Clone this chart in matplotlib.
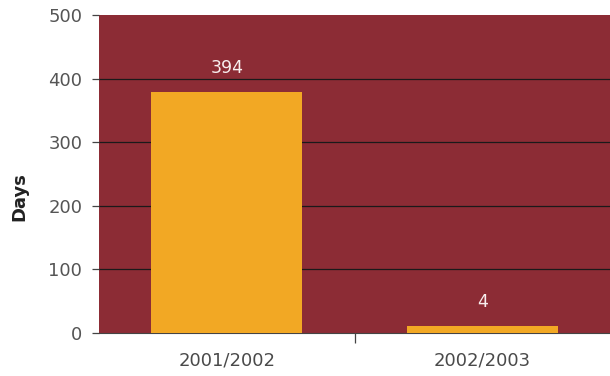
import matplotlib.pyplot as plt
import numpy as np

# data
seasons = ['2001/2002', '2002/2003']
bar_heights = [379, 11]       # drawn heights
value_labels = ['394', '4']   # printed labels
yticks = [0, 100, 200, 300, 400, 500]

plt.rcParams['font.family'] = ['DejaVu Sans']

fig = plt.figure(figsize=(6.1, 3.76), dpi=100)
ax = fig.add_axes([0.1623, 0.1144, 0.8377, 0.8457])
ax.set_facecolor('#8c2c35')

x = np.arange(len(seasons))
bars = ax.bar(x, bar_heights, width=0.59, color='#f2a824', zorder=3)

for b, lab in zip(bars, value_labels):
    ax.annotate(lab, (b.get_x() + b.get_width() / 2, b.get_height()),
                xytext=(0, 11), textcoords='offset points',
                ha='center', va='bottom', color='#f8eeee', fontsize=12.5)

ax.set_xlim(-0.5, 1.5)
ax.set_ylim(0, 500)
ax.set_yticks(yticks)
# grid lines for 100..400 only (no line on the top edge)
for yv in yticks[1:-1]:
    ax.axhline(yv, color='#1a1a1a', lw=0.9, zorder=1)

ax.set_xticks(x)
ax.set_xticklabels(seasons)
ax.set_xticks([0.5], minor=True)
ax.tick_params(axis='x', which='major', length=0, pad=13, labelsize=13, labelcolor='#4a4a4a')
ax.tick_params(axis='x', which='minor', length=7, width=0.9, color='#444444')
ax.tick_params(axis='y', length=5, width=0.9, color='#444444', pad=7, labelsize=13, labelcolor='#555555')

for s in ['top', 'right', 'left']:
    ax.spines[s].set_visible(False)
ax.spines['bottom'].set_color('#444444')

ax.set_ylabel('Days', fontsize=13, fontweight='bold', color='#222222')
ax.yaxis.set_label_coords(-0.138, 0.428)

plt.savefig('out.png', dpi=100)
